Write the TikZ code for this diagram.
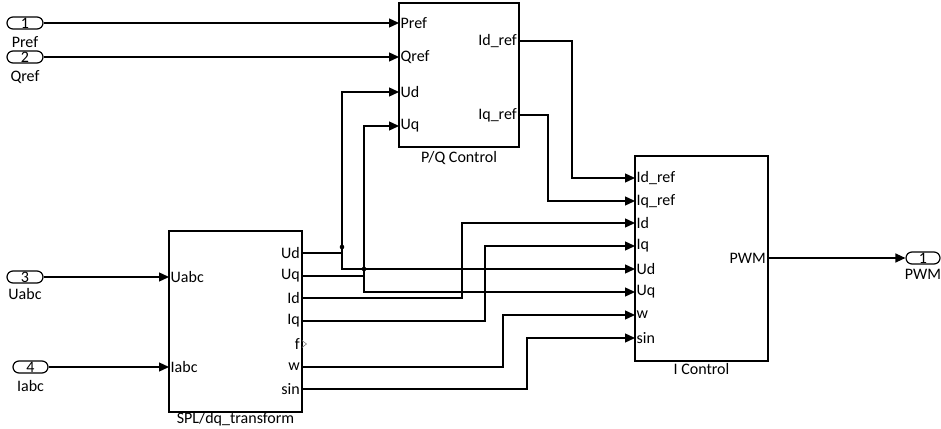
\documentclass[tikz,border=0pt]{standalone}
\usepackage{fontspec}
\setmainfont{Carlito}
\usetikzlibrary{arrows.meta}
\tikzstyle{block}=[draw,line width=1.3pt,inner sep=0pt]
\tikzstyle{pill}=[draw,line width=1.2pt,rounded corners=6pt,minimum height=12pt,inner sep=0pt]
\tikzstyle{sig}=[line width=1.3pt,-{Triangle[length=10pt,width=9pt]}]
\tikzstyle{wire}=[line width=1.3pt]
\tikzstyle{inlab}=[anchor=west,inner sep=1.5pt]
\tikzstyle{outlab}=[anchor=east,inner sep=2pt]

\begin{document}
\begin{tikzpicture}[x=1pt,y=-1pt,font=\fontsize{16}{19}\selectfont]
    \useasboundingbox (0,0) rectangle (941,428);
    % blocks
    \node[block,minimum width=120pt,minimum height=144pt] (pq) at (459,75) {};
    \node[block,minimum width=133pt,minimum height=181pt] (spl) at (235.5,321.5) {};
    \node[block,minimum width=133pt,minimum height=205pt] (ic) at (701.5,258.5) {};
    \node (pqname) at (459,158) {P/Q Control};
    \node (splname) at (235.5,419) {SPL/dq\_transform};
    \node (icname) at (701.5,369) {I Control};

    % ports
    \foreach \y/\t [count=\i] in {23/Pref,57/Qref,92/Ud,126/Uq}
    { \coordinate (pq-in\i) at (399,\y); \node[inlab] (pql\i) at (pq-in\i) {\t}; }
    \foreach \y/\t [count=\i] in {41/Id\_ref,115/Iq\_ref}
    { \coordinate (pq-o\i) at (519,\y); \node[outlab] (pqr\i) at (pq-o\i) {\t}; }
    \foreach \y/\t [count=\i] in {277/Uabc,367/Iabc}
    { \coordinate (spl-in\i) at (169,\y); \node[inlab] (spll\i) at (spl-in\i) {\t}; }
    \foreach \y/\t [count=\i] in {253/Ud,276/Uq,298/Id,321/Iq,344/f,367/w,389/sin}
    { \coordinate (spl-o\i) at (302,\y); \node[outlab] (splr\i) at (spl-o\i) {\t}; }
    \foreach \y/\t [count=\i] in {178/Id\_ref,201/Iq\_ref,223/Id,246/Iq,269/Ud,292/Uq,315/w,338/sin}
    { \coordinate (ic-in\i) at (635,\y); \node[inlab] (icl\i) at (ic-in\i) {\t}; }
    \coordinate (ic-o1) at (768,258);
    \node[outlab] (icr1) at (ic-o1) {PWM};

    % in- and outports
    \node[pill,minimum width=36pt] (in1) at (25,23) {1};
    \node[pill,minimum width=36pt] (in2) at (25,57) {2};
    \node[pill,minimum width=36pt] (in3) at (25,277) {3};
    \node[pill,minimum width=35pt] (in4) at (30.5,367) {4};
    \node[pill,minimum width=34pt] (out1) at (923,258) {1};
    \node (in1name) at (25,42) {Pref};
    \node (in2name) at (25,77) {Qref};
    \node (in3name) at (25,294) {Uabc};
    \node (in4name) at (30.5,386) {Iabc};
    \node (out1name) at (923,274) {PWM};

    \foreach \from/\to in {in1/pq-in1,in2/pq-in2,in3/spl-in1,in4/spl-in2,ic-o1/out1}
    \draw[sig] (\from) -- (\to);

    % unconnected f output
    \draw[line width=0.6pt,gray] (302,340.5) -- (306.5,344) -- (302,347.5);

    % branch points
    \coordinate (b1) at (342,247);
    \coordinate (b2) at (364,269);
    \draw[wire] (spl-o1) -| (b1);
    \draw[wire] (spl-o2) -| (b2);
    \draw[sig] (b1) |- (pq-in3);
    \draw[sig] (b1) |- (ic-in5);
    \draw[sig] (b2) |- (pq-in4);
    \draw[sig] (b2) |- (ic-in6);
    \fill (b1) circle (2.3pt);
    \fill (b2) circle (2.3pt);

    \draw[sig] (pq-o1) -- ++(53,0) |- (ic-in1);
    \draw[sig] (pq-o2) -- ++(29,0) |- (ic-in2);
    \draw[sig] (spl-o3) -- ++(160,0) |- (ic-in3);
    \draw[sig] (spl-o4) -- ++(183,0) |- (ic-in4);
    \draw[sig] (spl-o6) -- ++(201,0) |- (ic-in7);
    \draw[sig] (spl-o7) -- ++(225,0) |- (ic-in8);
\end{tikzpicture}
\end{document}
